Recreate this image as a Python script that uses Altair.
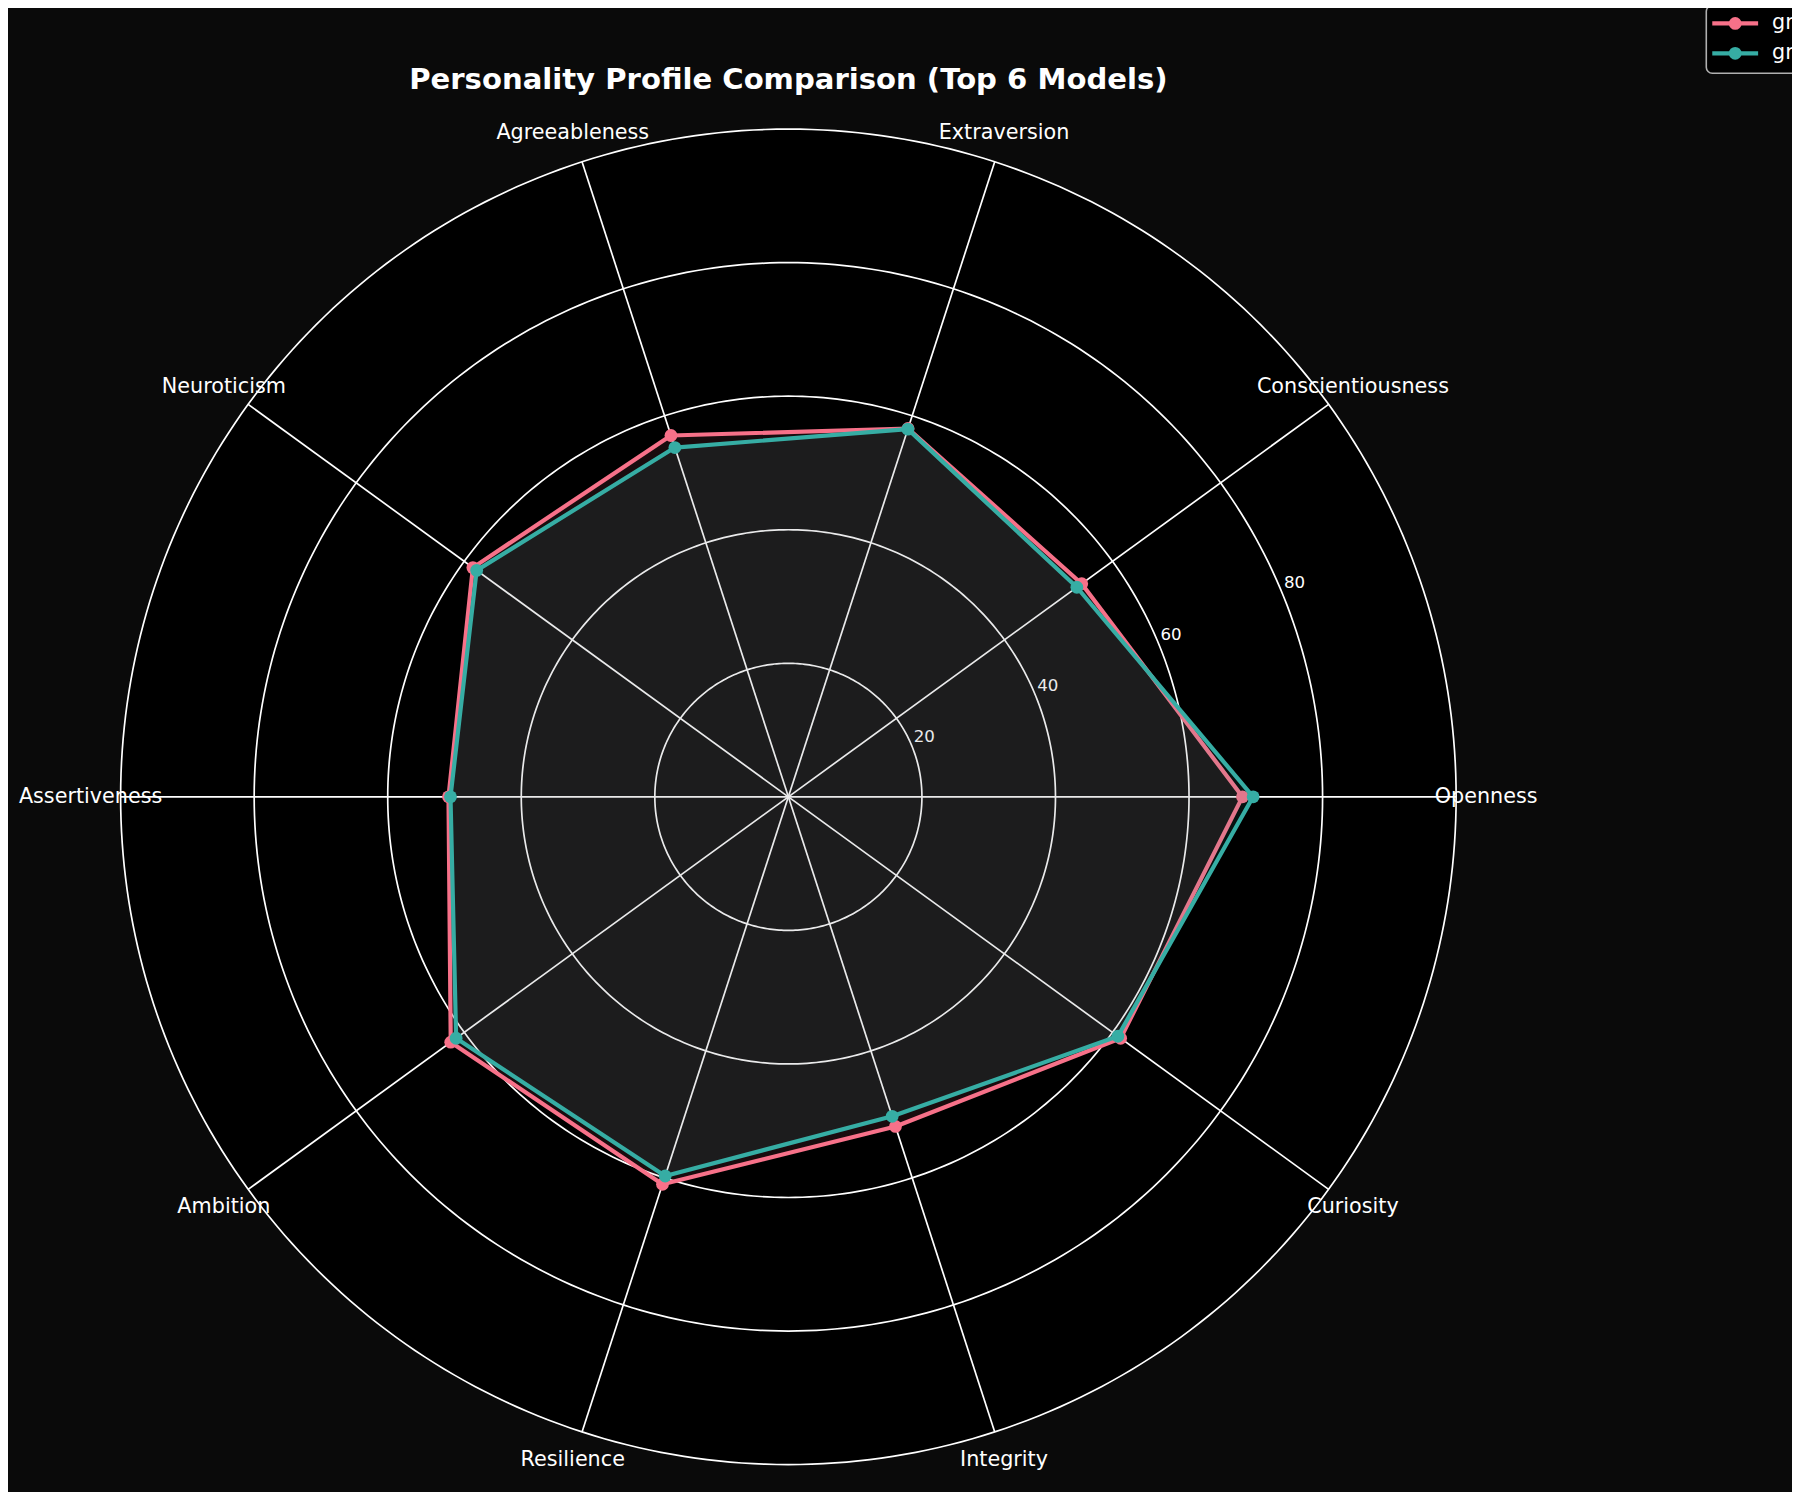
import numpy as np
import pandas as pd
import altair as alt

# ---------------- data ----------------
CATEGORIES = ["Openness", "Conscientiousness", "Extraversion", "Agreeableness", "Neuroticism",
              "Assertiveness", "Ambition", "Resilience", "Integrity", "Curiosity"]
MODELS = ["grok-4", "grok-3"]
MODEL_A_VALUES = [68.0, 54.3, 58.0, 56.9, 58.4, 50.9, 62.5, 61.0, 51.9, 61.5]
MODEL_B_VALUES = [69.6, 53.4, 57.9, 55.0, 57.7, 50.6, 61.5, 59.7, 50.3, 61.0]
SERIES = [MODEL_A_VALUES, MODEL_B_VALUES]
COLORS = ["#f77189", "#36ada4"]
RING_TICKS = [20, 40, 60, 80]
R_MAX = 100
TICK_LABEL_ANGLE = 22.5
TITLE = "Personality Profile Comparison (Top 6 Models)"

N = len(CATEGORIES)
FONT = "DejaVu Sans"
BG = "#0a0a0a"
GRID = "#ffffff"
LABEL_R = 104.5

xs = alt.Scale(domain=[-R_MAX, R_MAX], nice=False, zero=False)
ys = alt.Scale(domain=[-R_MAX, R_MAX], nice=False, zero=False)
color_scale = alt.Scale(domain=MODELS, range=COLORS)


def X(f):
    return alt.X(f, type="quantitative", scale=xs, axis=None, title=None)


def Y(f):
    return alt.Y(f, type="quantitative", scale=ys, axis=None, title=None)


# black polar background disc
disc_df = pd.DataFrame({"deg": np.arange(0, 181, 1)})
disc = alt.Chart(disc_df).transform_calculate(
    px=f"{R_MAX} * cos(datum.deg * PI / 180)",
    py=f"{R_MAX} * sin(datum.deg * PI / 180)",
    py2=f"-{R_MAX} * sin(datum.deg * PI / 180)",
).mark_area(color="#000000", orient="vertical", opacity=1).encode(
    x=X("px"), y=Y("py"), y2=alt.Y2("py2:Q")
)

# rings
ring_rows = [{"ring": r, "deg": d} for r in RING_TICKS + [R_MAX] for d in range(0, 361, 1)]
ring_df = pd.DataFrame(ring_rows)
rings = alt.Chart(ring_df).transform_calculate(
    px="datum.ring * cos(datum.deg * PI / 180)",
    py="datum.ring * sin(datum.deg * PI / 180)",
).mark_line(color=GRID, strokeWidth=1.7).encode(
    x=X("px"), y=Y("py"), detail="ring:N", order=alt.Order("deg:Q")
)

# spokes
cat_df = pd.DataFrame({"category": CATEGORIES, "idx": list(range(N))})
spokes = alt.Chart(cat_df).transform_calculate(
    zero="0",
    ex=f"{R_MAX} * cos(datum.idx * 2 * PI / {N})",
    ey=f"{R_MAX} * sin(datum.idx * 2 * PI / {N})",
).mark_rule(color=GRID, strokeWidth=1.7).encode(
    x=X("zero"), y=Y("zero"), x2=alt.X2("ex:Q"), y2=alt.Y2("ey:Q")
)

# category labels
cat_labels = alt.Chart(cat_df).transform_calculate(
    lx=f"{LABEL_R} * cos(datum.idx * 2 * PI / {N})",
    ly=f"{LABEL_R} * sin(datum.idx * 2 * PI / {N})",
).mark_text(font=FONT, fontSize=20.8, color="#ffffff", align="center", baseline="middle").encode(
    x=X("lx"), y=Y("ly"), text="category:N"
)

# radial tick labels
tick_df = pd.DataFrame({"r": RING_TICKS})
tick_labels = alt.Chart(tick_df).transform_calculate(
    tx=f"datum.r * cos({TICK_LABEL_ANGLE} * PI / 180)",
    ty=f"datum.r * sin({TICK_LABEL_ANGLE} * PI / 180)",
).mark_text(font=FONT, fontSize=16.7, color="#ffffff", align="left", baseline="bottom", dx=2).encode(
    x=X("tx"), y=Y("ty"), text=alt.Text("r:Q", format="d")
)

# series
series_layers = []
for name, vals, col in zip(MODELS, SERIES, COLORS):
    df = pd.DataFrame({"category": CATEGORIES, "idx": list(range(N)), "value": vals, "model": name})
    base = alt.Chart(df).transform_calculate(
        px=f"datum.value * cos(datum.idx * 2 * PI / {N})",
        py=f"datum.value * sin(datum.idx * 2 * PI / {N})",
    )
    poly = base.mark_line(interpolate="linear-closed", strokeWidth=4.2, fill=col, fillOpacity=0.1,
                          strokeJoin="round").encode(
        x=X("px"), y=Y("py"), order=alt.Order("idx:Q"),
        color=alt.Color("model:N", scale=color_scale, legend=None),
    )
    pts = base.mark_point(filled=True, size=165, opacity=1).encode(
        x=X("px"), y=Y("py"),
        color=alt.Color("model:N", scale=color_scale, legend=None),
    )
    series_layers += [poly, pts]

# title
title_df = pd.DataFrame({"t": [TITLE]})
title = alt.Chart(title_df).mark_text(font=FONT, fontSize=29.2, fontWeight="bold", color="#ffffff",
                                      align="center", baseline="alphabetic").encode(
    x=alt.value(670), y=alt.value(-40), text="t:N"
)

# legend (top-right, partly outside the figure)
leg_df = pd.DataFrame({"model": MODELS, "li": list(range(len(MODELS)))})
leg_box = alt.Chart(pd.DataFrame({"a": [0]})).mark_rect(
    fill="#000000", stroke="#b0b0b0", strokeWidth=1.6, cornerRadius=6
).encode(x=alt.value(1591), x2=alt.value(1720), y=alt.value(-124), y2=alt.value(-56))
leg_base = alt.Chart(leg_df).transform_calculate(ly="-106 + 30 * datum.li")
leg_lines = leg_base.mark_rule(strokeWidth=4.2).encode(
    x=alt.value(1597), x2=alt.value(1643), y=alt.Y("ly:Q", scale=None, axis=None),
    color=alt.Color("model:N", scale=color_scale, legend=None),
)
leg_pts = leg_base.mark_point(filled=True, size=165, opacity=1).encode(
    x=alt.value(1620), y=alt.Y("ly:Q", scale=None, axis=None),
    color=alt.Color("model:N", scale=color_scale, legend=None),
)
leg_text = leg_base.mark_text(font=FONT, fontSize=20.8, color="#ffffff", align="left",
                              baseline="middle").encode(
    x=alt.value(1657), y=alt.Y("ly:Q", scale=None, axis=None), text="model:N"
)

chart = alt.layer(
    disc, rings, spokes, tick_labels, *series_layers, cat_labels, title,
    leg_box, leg_lines, leg_pts, leg_text,
).properties(
    width=1340, height=1340,
    autosize=alt.AutoSizeParams(type="none"),
    padding={"left": 113, "top": 119, "right": 337, "bottom": 25},
    background=BG,
).configure_view(stroke=None)

chart.save("out.html", embed_options={"renderer": "svg", "actions": False})
